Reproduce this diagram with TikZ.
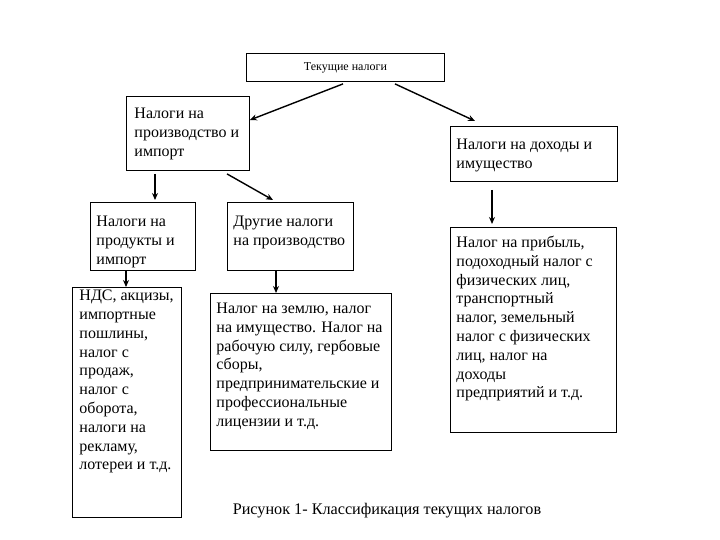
\documentclass[tikz,border=0pt]{standalone}
\usepackage{fontspec}
\setmainfont{Liberation Serif}
\usetikzlibrary{calc,arrows.meta}
\newcommand{\boxtxt}[4]{\begin{minipage}[c][#2][t]{#1}\vspace*{#3}\fontsize{16}{18.8}\selectfont\begin{tabular}{@{}l@{}}#4\end{tabular}\end{minipage}}
\begin{document}
\begin{tikzpicture}[x=1pt,y=-1pt,
  bx/.style={draw, line width=0.9pt, anchor=north west, inner xsep=6pt, inner ysep=0pt},
  arr/.style={line width=1.4pt, -{Stealth[length=7pt,width=6pt]}}]
\useasboundingbox (0,0) rectangle (720,540);
\node[bx, minimum width=198pt, minimum height=28pt, inner sep=0pt] (T) at (246,53) {\fontsize{12}{14}\selectfont Текущие налоги};
\node[bx, inner xsep=8pt] (A) at (126,96) {\boxtxt{107pt}{74pt}{8.8pt}{Налоги на\\производство и\\импорт}};
\node[bx] (B) at (450,126) {\boxtxt{155pt}{55pt}{9.8pt}{Налоги на доходы и\\имущество}};
\node[bx] (C) at (90,202) {\boxtxt{93pt}{68pt}{10.8pt}{Налоги на\\продукты и\\импорт}};
\node[bx] (D) at (227,202) {\boxtxt{114pt}{68pt}{10.8pt}{Другие налоги\\на производство}};
\node[bx, inner xsep=7pt] (E) at (72,287) {\boxtxt{95pt}{230pt}{0pt}{НДС, акцизы,\\импортные\\пошлины,\\налог с\\продаж,\\налог с\\оборота,\\налоги на\\рекламу,\\лотереи и т.д.}};
\node[bx] (F) at (210,293) {\boxtxt{169pt}{157pt}{6.8pt}{Налог на землю, налог\\на имущество. Налог на\\рабочую силу, гербовые\\сборы,\\предпринимательские и\\профессиональные\\лицензии и т.д.}};
\node[bx] (G) at (450,227) {\boxtxt{154pt}{205pt}{6.8pt}{Налог на прибыль,\\подоходный налог с\\физических лиц,\\транспортный\\налог, земельный\\налог с физических\\лиц, налог на\\доходы\\предприятий и т.д.}};
\node[font=\fontsize{16.2}{18}\selectfont] (cap) at (387,511) {Рисунок 1- Классификация текущих налогов};
\draw[arr] ($(T.south west)+(97,2)$) -- ($(A.north east)+(0,24)$);
\draw[arr] ($(T.south west)+(149,2)$) -- ($(B.north west)+(25,-5)$);
\draw[arr] ($(A.south west)+(29,3)$) -- ($(C.north west)+(65,-2)$);
\draw[arr] ($(A.south west)+(101,3)$) -- ($(D.north west)+(46,-2)$);
\draw[arr] ($(C.south west)+(36,0)$) -- ($(E.north west)+(54,0)$);
\draw[arr] ($(D.south west)+(49,0)$) -- ($(F.north west)+(66,0)$);
\draw[arr] ($(B.south west)+(42,8)$) -- ($(G.north west)+(42,-3)$);
\end{tikzpicture}
\end{document}
